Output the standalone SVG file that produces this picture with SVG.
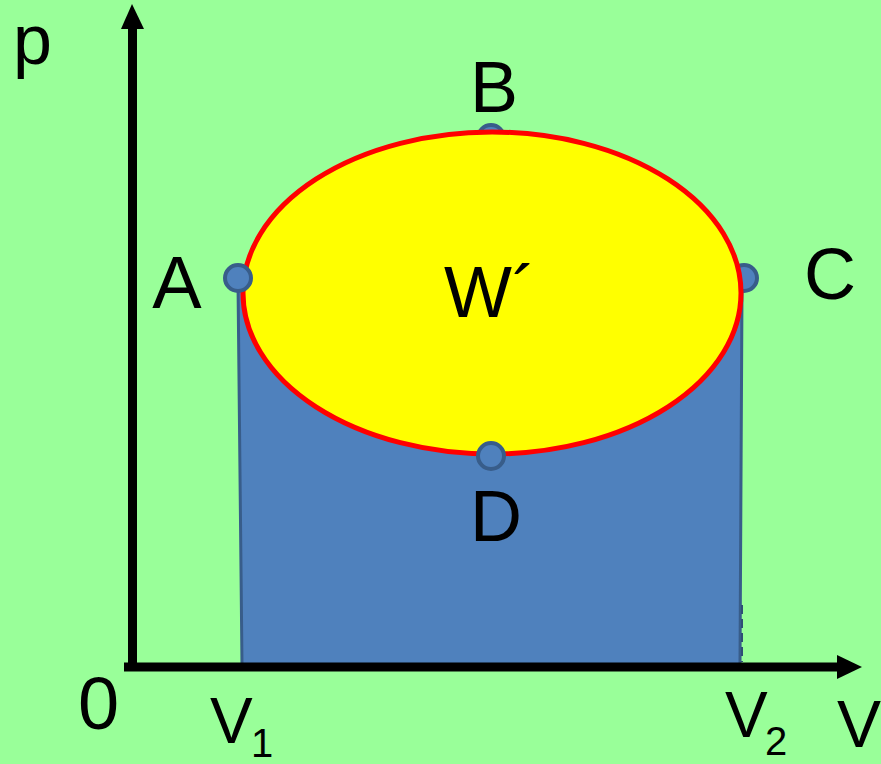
<svg xmlns="http://www.w3.org/2000/svg" width="881" height="764" viewBox="0 0 881 764">
<defs>
<style>
.lbl{font-family:"Liberation Sans","Open Sans",sans-serif;fill:#000;}
.pt{fill:#4F81BD;stroke:#385D8A;stroke-width:4;}
.ax{stroke:#000;stroke-width:9;fill:none;}
</style>
</defs>
<rect x="0" y="0" width="881" height="764" fill="#99FF99"/>
<g id="work-area">
<path d="M 238 282 L 242 665 L 740 665 L 742 290 A 249 161 0 0 1 243 293 Z" fill="#4F81BD" stroke="#385D8A" stroke-width="3"/>
<line x1="742" y1="605" x2="742" y2="662" stroke="#2F4F75" stroke-width="2" stroke-dasharray="9 5"/>
</g>
<g id="B"><circle class="pt" cx="491" cy="138" r="13"/></g>
<g id="C"><circle class="pt" cx="744" cy="278" r="13"/></g>
<g id="cycle">
<ellipse cx="492" cy="293" rx="249" ry="161" fill="#FFFF00" stroke="#FF0000" stroke-width="5"/>
</g>
<g id="A"><circle class="pt" cx="238" cy="278" r="13"/></g>
<g id="D"><circle class="pt" cx="491" cy="456" r="13"/></g>
<g id="axes">
<line class="ax" x1="132.5" y1="670" x2="132.5" y2="26"/>
<polygon points="132,4 121,29 144,29" fill="#000"/>
<line class="ax" x1="124" y1="667" x2="840" y2="667"/>
<polygon points="862,667 837,655 837,679" fill="#000"/>
</g>
<g id="labels">
<text class="lbl" x="13" y="64" font-size="70">p</text>
<text class="lbl" x="177" y="308" font-size="74" text-anchor="middle">A</text>
<text class="lbl" x="494" y="112" font-size="72" text-anchor="middle">B</text>
<text class="lbl" x="830" y="299" font-size="72" text-anchor="middle">C</text>
<text class="lbl" x="496" y="541" font-size="72" text-anchor="middle">D</text>
<text class="lbl" x="444" y="317" font-size="72">W´</text>
<text class="lbl" x="98.5" y="729" font-size="74" text-anchor="middle">0</text>
<text class="lbl" x="210" y="743" font-size="64">V</text>
<text class="lbl" x="251" y="757" font-size="40">1</text>
<text class="lbl" x="725" y="737" font-size="64">V</text>
<text class="lbl" x="765" y="755" font-size="40">2</text>
<text class="lbl" x="837" y="747" font-size="66">V</text>
</g>
</svg>
